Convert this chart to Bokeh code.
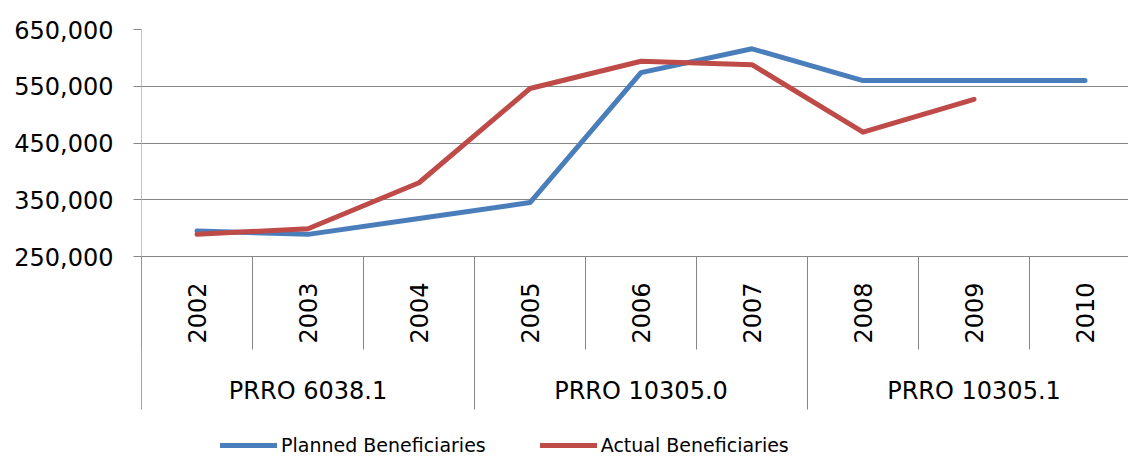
import numpy as np
from bokeh.plotting import figure
from bokeh.models import (Range1d, FixedTicker, NumeralTickFormatter, Legend,
                          LegendItem)
from bokeh.core.properties import value
from bokeh.embed import file_html
from bokeh.resources import INLINE

# ---------------- data ----------------
years = ["2002", "2003", "2004", "2005", "2006", "2007", "2008", "2009", "2010"]
groups = ["PRRO 6038.1", "PRRO 10305.0", "PRRO 10305.1"]
group_sizes = [3, 3, 3]
planned = [295000, 289000, 317000, 345000, 574000, 616000, 560000, 560000, 560000]
actual = [289000, 299000, 380000, 546000, 594000, 588000, 469000, 527000]
y_ticks = [250000, 350000, 450000, 550000, 650000]

BLUE = "#4A7EBB"
RED = "#BE4B48"
GRID = "#868686"
FONT = "DejaVu Sans"

# ---------------- layout ----------------
W, H = 1128, 457
LEFT, TOP = 141, 29
cat_px = 111
frame_h = H - TOP                      # frame reaches bottom of figure
axis_px = 227                          # 250k -> 650k span in px
below_base = frame_h - axis_px         # px from 250k line to frame bottom
y_lo = y_ticks[0] - below_base * (y_ticks[-1] - y_ticks[0]) / axis_px
band_off = 48                          # legend strip under the category axis
cat_depth = below_base - band_off      # depth of the category axis block

p = figure(width=W, height=H, output_backend="svg", toolbar_location=None,
           x_range=Range1d(0, (W - LEFT) / cat_px),
           y_range=Range1d(y_lo, y_ticks[-1]),
           x_axis_location=None,
           min_border_left=LEFT, min_border_right=0,
           min_border_top=TOP, min_border_bottom=0)
p.outline_line_color = None
p.background_fill_color = "white"
p.border_fill_color = "white"
p.xgrid.visible = False

p.extra_y_ranges = {"band": Range1d(-band_off, frame_h - band_off)}

# y axis
p.yaxis.ticker = FixedTicker(ticks=y_ticks)
p.yaxis.formatter = NumeralTickFormatter(format="0,0")
p.yaxis.major_label_text_font = FONT
p.yaxis.major_label_text_font_size = "24px"
p.yaxis.major_label_text_color = "#000000"
p.yaxis.axis_line_color = None
p.yaxis.major_tick_line_color = GRID
p.yaxis.major_tick_out = 8
p.yaxis.major_tick_in = 0
p.yaxis.minor_tick_line_color = None
p.yaxis.major_label_standoff = 20

p.ygrid.ticker = FixedTicker(ticks=y_ticks)
p.ygrid.grid_line_color = GRID
p.ygrid.grid_line_width = 1

# left axis line (stops at the bottom of the category block)
p.segment(x0=[0], x1=[0], y0=[0], y1=[frame_h - band_off],
          line_color=GRID, line_width=1, y_range_name="band")

# category axis decorations (band units = px above the block bottom)
n = len(years)
xs_year = [i + 0.5 for i in range(n)]
bounds = list(range(n + 1))
group_bounds = [0] + list(np.cumsum(group_sizes))
p.segment(x0=bounds, x1=bounds, y0=[cat_depth] * len(bounds), y1=[60] * len(bounds),
          line_color=GRID, line_width=1, y_range_name="band")
p.segment(x0=group_bounds, x1=group_bounds, y0=[cat_depth] * len(group_bounds),
          y1=[0] * len(group_bounds), line_color=GRID, line_width=1, y_range_name="band")

p.text(x=xs_year, y=[127] * n, text=years, angle=np.pi / 2,
       text_align="right", text_baseline="middle",
       text_font=value(FONT), text_font_size="24px", text_color="#000000",
       y_range_name="band")

gx = []
start = 0
for s in group_sizes:
    gx.append(start + s / 2)
    start += s
p.text(x=gx, y=[19] * len(groups), text=groups,
       text_align="center", text_baseline="middle",
       text_font=value(FONT), text_font_size="24px", text_color="#000000",
       y_range_name="band")

# series
r1 = p.line(xs_year, planned, line_color=BLUE, line_width=5,
            line_join="round", line_cap="round")
r2 = p.line(xs_year[:len(actual)], actual, line_color=RED, line_width=5,
            line_join="round", line_cap="round")

legend = Legend(items=[LegendItem(label="Planned Beneficiaries", renderers=[r1]),
                       LegendItem(label="Actual Beneficiaries", renderers=[r2])],
                orientation="horizontal", location=(79, 1),
                glyph_width=57, glyph_height=16, label_height=16,
                label_standoff=4, spacing=54, padding=0, margin=0,
                border_line_color=None, background_fill_alpha=0,
                label_text_font=FONT, label_text_font_size="19px",
                label_text_color="#000000")
p.add_layout(legend)

open("out.html", "w").write(file_html(p, INLINE))
